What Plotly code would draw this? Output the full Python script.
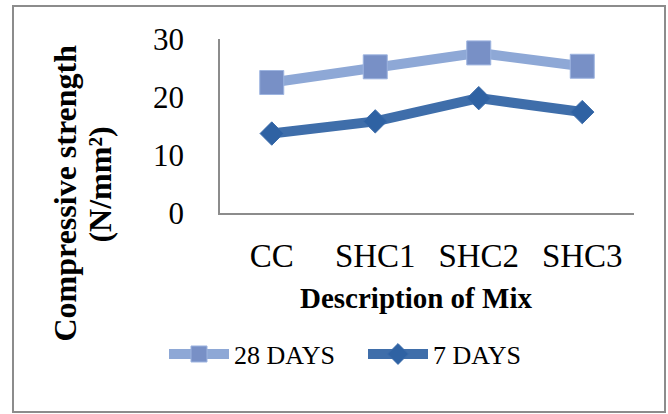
import plotly.graph_objects as go

categories = ["CC", "SHC1", "SHC2", "SHC3"]
days28 = [22.5, 25.2, 27.6, 25.3]
days7 = [13.7, 15.8, 19.8, 17.4]
y_ticks = [0, 10, 20, 30]

W, H = 668, 414
L, R, T, B = 220, 34, 39, 200.5
pw, ph = W - L - R, H - T - B

def px(x):
    return (x - L) / pw

def py(y):
    return (H - B - y) / ph

FONT = "Liberation Serif"

fig = go.Figure()
fig.add_trace(go.Scatter(
    x=categories, y=days28, name="28 DAYS", mode="lines+markers",
    line=dict(color="#8EA8D6", width=10),
    marker=dict(symbol="square", size=24, color="#7890C6",
                line=dict(color="#9DB4E0", width=1)),
))
fig.add_trace(go.Scatter(
    x=categories, y=days7, name="7 DAYS", mode="lines+markers",
    line=dict(color="#3F6EAA", width=10),
    marker=dict(symbol="diamond", size=18, color="#2F62A3",
                line=dict(color="#3A6BAA", width=1)),
))

fig.update_layout(
    width=W, height=H,
    margin=dict(l=L, r=R, t=T, b=B, pad=0),
    paper_bgcolor="white", plot_bgcolor="white",
    font=dict(family=FONT, color="black"),
    showlegend=True,
    legend=dict(orientation="h", x=px(164), y=py(355), xanchor="left", yanchor="middle",
                font=dict(family=FONT, size=26, color="black"),
                itemwidth=60, entrywidth=124, entrywidthmode="pixels",
                tracegroupgap=0, bgcolor="rgba(0,0,0,0)"),
    xaxis=dict(type="category", range=[-0.5, 3.5], showgrid=False, zeroline=False,
               showline=True, linecolor="#8C8C8C", linewidth=1.5, ticks="",
               tickfont=dict(family=FONT, size=33), ticklabelstandoff=13,
               fixedrange=True),
    yaxis=dict(range=[0, 30], tickvals=y_ticks, showgrid=False, zeroline=False,
               showline=True, linecolor="#8C8C8C", linewidth=1.5, ticks="",
               tickfont=dict(family=FONT, size=31), ticklabelstandoff=28,
               fixedrange=True),
    shapes=[dict(type="rect", xref="paper", yref="paper",
                 x0=px(13), x1=px(665), y0=py(6), y1=py(413),
                 line=dict(color="#8C8C8C", width=2), fillcolor="rgba(0,0,0,0)",
                 layer="below")],
    annotations=[
        dict(text="<b>Description of Mix</b>", xref="paper", yref="paper",
             x=px(416), y=py(299), xanchor="center", yanchor="middle", showarrow=False,
             font=dict(family=FONT, size=29, color="black")),
        dict(text="<b>Compressive strength</b>", xref="paper", yref="paper",
             x=px(65), y=py(194), xanchor="center", yanchor="middle", showarrow=False,
             textangle=-90, font=dict(family=FONT, size=32, color="black")),
        dict(text="<b>(N/mm²)</b>", xref="paper", yref="paper",
             x=px(100), y=py(185), xanchor="center", yanchor="middle", showarrow=False,
             textangle=-90, font=dict(family=FONT, size=32, color="black")),
    ],
)

fig.write_html("out.html", config={"displayModeBar": False},
               post_script="document.body.style.margin='0';document.body.style.overflow='hidden';")
